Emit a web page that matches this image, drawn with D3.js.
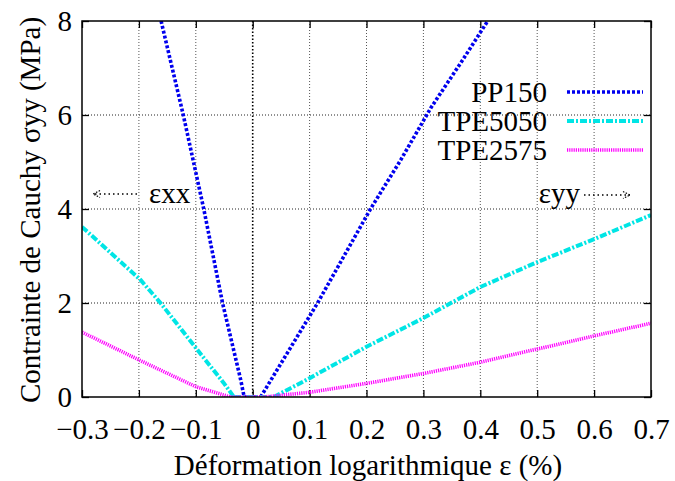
<!DOCTYPE html>
<html>
<head>
<meta charset="utf-8">
<script src="https://cdn.jsdelivr.net/npm/d3@7/dist/d3.min.js"></script>
<style>
  html, body { margin: 0; padding: 0; background: #fff; }
  svg { display: block; }
  svg text { font-family: 'Liberation Serif', 'Times New Roman', Times, 'DejaVu Serif', serif !important; fill: #000; }
</style>
</head>
<body>
<svg id="chart" width="675" height="481"></svg>
<script>
// ---- data ----
const seriesNames = ["PP150", "TPE5050", "TPE2575"];
const seriesColors = ["#0000ee", "#00e5e5", "#ff00ff"];

const strainXX_PP150 = [-0.161, -0.122, -0.086, -0.053, -0.021, -0.015];
const stressXX_PP150 = [8, 6, 4, 2, 0.36, 0];
const strainYY_PP150 = [0.014, 0.061, 0.114, 0.207, 0.26, 0.313, 0.369, 0.413];
const stressYY_PP150 = [0, 0.94, 2, 4, 5.04, 6.15, 7.17, 8];

const strainXX_TPE5050 = [-0.3, -0.197, -0.162, -0.097, -0.051, -0.033];
const stressXX_TPE5050 = [3.62, 2.49, 2.0, 1.0, 0.3, 0];
const strainYY_TPE5050 = [0.037, 0.1, 0.2, 0.3, 0.4, 0.5, 0.6, 0.7];
const stressYY_TPE5050 = [0, 0.4, 1.07, 1.68, 2.34, 2.87, 3.36, 3.87];

const strainXX_TPE2575 = [-0.3, -0.2, -0.1, -0.039];
const stressXX_TPE2575 = [1.38, 0.79, 0.22, 0];
const strainYY_TPE2575 = [0.02, 0.1, 0.2, 0.3, 0.4, 0.5, 0.6, 0.7];
const stressYY_TPE2575 = [0, 0.1, 0.29, 0.5, 0.74, 1.02, 1.3, 1.57];

const xTicks = [-0.3, -0.2, -0.1, 0, 0.1, 0.2, 0.3, 0.4, 0.5, 0.6, 0.7];
const xTickLabels = ["\u22120.3", "\u22120.2", "\u22120.1", "0", "0.1", "0.2", "0.3", "0.4", "0.5", "0.6", "0.7"];
const yTicks = [0, 2, 4, 6, 8];
const yTickLabels = ["0", "2", "4", "6", "8"];

const xTitle = "Déformation logarithmique ε (%)";
const yTitle = "Contrainte de Cauchy σyy (MPa)";
const annotXX = "εxx";
const annotYY = "εyy";

// ---- layout ----
const W = 675, H = 481;
const m = { left: 82, right: 675 - 651, top: 21, bottom: 481 - 397 };
const svg = d3.select("#chart");
const FONT = "'Liberation Serif', 'Times New Roman', Times, 'DejaVu Serif', serif";

const x = d3.scaleLinear().domain([-0.3, 0.7]).range([m.left, W - m.right]);
const y = d3.scaleLinear().domain([0, 8]).range([H - m.bottom, m.top]);

const FS = 29;

// clip
svg.append("defs").append("clipPath").attr("id", "clip")
  .append("rect").attr("x", m.left).attr("y", m.top)
  .attr("width", x.range()[1] - m.left).attr("height", y.range()[0] - m.top);

// grid
const grid = svg.append("g");
grid.selectAll("line.gx").data(xTicks.filter(d => d > -0.3 && d < 0.7 && d !== 0)).enter()
  .append("line").attr("x1", d => x(d)).attr("x2", d => x(d))
  .attr("y1", y(0)).attr("y2", y(8))
  .attr("stroke", "#555").attr("stroke-width", 1).attr("stroke-dasharray", "1,2");
grid.selectAll("line.gy").data(yTicks.filter(d => d > 0 && d < 8)).enter()
  .append("line").attr("x1", x(-0.3)).attr("x2", x(0.7))
  .attr("y1", d => y(d)).attr("y2", d => y(d))
  .attr("stroke", "#222").attr("stroke-width", 1).attr("stroke-dasharray", "1,2");
// zero axis
grid.append("line").attr("x1", x(0)).attr("x2", x(0)).attr("y1", y(0)).attr("y2", y(8))
  .attr("stroke", "#000").attr("stroke-width", 1.6).attr("stroke-dasharray", "1.5,2");

// axes (ticks inward, mirrored)
const axB = d3.axisBottom(x).tickValues(xTicks).tickFormat((d, i) => xTickLabels[i]).tickSizeInner(-7).tickSizeOuter(0).tickPadding(21);
const axT = d3.axisTop(x).tickValues(xTicks).tickFormat("").tickSizeInner(-7).tickSizeOuter(0);
const axL = d3.axisLeft(y).tickValues(yTicks).tickFormat((d, i) => yTickLabels[i]).tickSizeInner(-7).tickSizeOuter(0).tickPadding(10);
const axR = d3.axisRight(y).tickValues(yTicks).tickFormat("").tickSizeInner(-7).tickSizeOuter(0);

function styleAxis(g) {
  g.attr("font-family", FONT).attr("font-size", FS);
  g.select(".domain").remove();
  g.selectAll(".tick line").attr("stroke", "#000").attr("stroke-width", 1.3);
  g.selectAll(".tick text").style("font-size", FS + "px").style("font-family", FONT);
}
svg.append("g").attr("transform", `translate(0,${y(0)})`).call(axB).call(styleAxis);
svg.append("g").attr("transform", `translate(0,${y(8)})`).call(axT).call(styleAxis);
svg.append("g").attr("transform", `translate(${x(-0.3)},0)`).call(axL).call(styleAxis);
svg.append("g").attr("transform", `translate(${x(0.7)},0)`).call(axR).call(styleAxis);

// series
const dashes = ["3,2", "7,2,2,2", "1.2,1"];
const widths = [3.6, 4, 3.6];
const series = [
  { xx: strainXX_PP150, sx: stressXX_PP150, yy: strainYY_PP150, sy: stressYY_PP150 },
  { xx: strainXX_TPE5050, sx: stressXX_TPE5050, yy: strainYY_TPE5050, sy: stressYY_TPE5050 },
  { xx: strainXX_TPE2575, sx: stressXX_TPE2575, yy: strainYY_TPE2575, sy: stressYY_TPE2575 }
];
const line = d3.line().x(d => x(d[0])).y(d => y(d[1]));
const plot = svg.append("g").attr("clip-path", "url(#clip)");
series.forEach((s, i) => {
  const left = s.xx.map((v, k) => [v, s.sx[k]]);
  const right = s.yy.map((v, k) => [v, s.sy[k]]);
  [left, right].forEach(pts => {
    plot.append("path").datum(pts).attr("d", line)
      .attr("fill", "none").attr("stroke", seriesColors[i])
      .attr("stroke-width", widths[i]).attr("stroke-dasharray", dashes[i]);
  });
  plot.append("path").datum([left[left.length - 1], right[0]]).attr("d", line)
    .attr("fill", "none").attr("stroke", seriesColors[i])
    .attr("stroke-width", widths[i]).attr("stroke-dasharray", dashes[i]);
});

// frame
svg.append("rect").attr("x", x(-0.3)).attr("y", y(8))
  .attr("width", x(0.7) - x(-0.3)).attr("height", y(0) - y(8))
  .attr("fill", "none").attr("stroke", "#000").attr("stroke-width", 1.5);

function txt(xp, yp, s, anchor) {
  return svg.append("text").attr("x", xp).attr("y", yp).attr("text-anchor", anchor || "start")
    .style("font-size", FS + "px").style("font-family", FONT).text(s);
}

// legend
const legTextX = 547, legX1 = 567, legX2 = 643, legY0 = 92, legDY = 29;
seriesNames.forEach((name, i) => {
  const yy = legY0 + i * legDY;
  txt(legTextX, yy + 10, name, "end");
  svg.append("line").attr("x1", legX1).attr("x2", legX2).attr("y1", yy).attr("y2", yy)
    .attr("stroke", seriesColors[i]).attr("stroke-width", widths[i])
    .attr("stroke-dasharray", dashes[i]);
});

// annotations
function arrow(x1, x2, yv) {
  svg.append("line").attr("x1", x1).attr("x2", x2).attr("y1", yv).attr("y2", yv)
    .attr("stroke", "#000").attr("stroke-width", 1.5).attr("stroke-dasharray", "1.5,3");
  const dir = x2 > x1 ? 1 : -1;
  svg.append("path")
    .attr("d", `M${x2 - dir * 7},${yv - 3.5} L${x2},${yv} L${x2 - dir * 7},${yv + 3.5}`)
    .attr("fill", "none").attr("stroke", "#000").attr("stroke-width", 1.2).attr("stroke-dasharray", "1.5,1.5");
}
txt(149, 203, annotXX);
arrow(137, 93, 194);
txt(580, 203, annotYY, "end");
arrow(584, 630, 195);

// titles
txt(368, 475, xTitle, "middle");
svg.append("text").attr("transform", `translate(40,210) rotate(-90)`).attr("text-anchor", "middle")
  .style("font-size", FS + "px").style("font-family", FONT).text(yTitle);
</script>
</body>
</html>
